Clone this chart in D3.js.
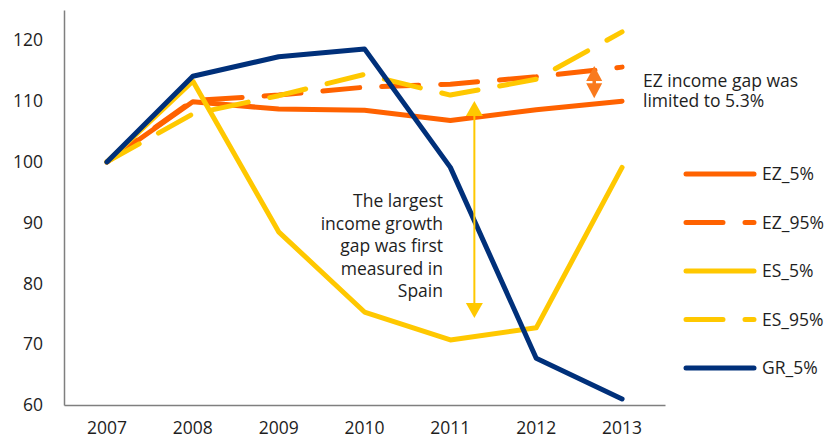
<!DOCTYPE html>
<html>
<head>
<meta charset="utf-8">
<script src="https://cdn.jsdelivr.net/npm/d3@7"></script>
<style>
  html, body { margin: 0; padding: 0; background: #fff; }
  svg text { font-family: "Open Sans", sans-serif; fill: #1e1e1e; }
</style>
</head>
<body>
<svg id="chart" width="835" height="441"></svg>
<script>
// Income index (2007 = 100) by income percentile
const years = ["2007", "2008", "2009", "2010", "2011", "2012", "2013"];
const ez5  = [100, 109.9, 108.7, 108.5, 106.8, 108.6, 110.0];
const ez95 = [100, 110.1, 111.0, 112.3, 112.8, 114.0, 115.6];
const es5  = [100, 113.3, 88.5, 75.3, 70.7, 72.7, 99.1];
const es95 = [100, 107.9, 110.9, 114.4, 111.0, 113.6, 121.4];
const gr5  = [100, 114.1, 117.3, 118.6, 99.1, 67.7, 61.0];
const yTicks = [60, 70, 80, 90, 100, 110, 120];

const seriesNames = ["EZ_5%", "EZ_95%", "ES_5%", "ES_95%", "GR_5%"];
const seriesValues = [ez5, ez95, es5, es95, gr5];
const seriesColors = ["#ff6200", "#ff6200", "#ffc800", "#ffc800", "#00307a"];
const seriesDashed = [false, true, false, true, false];

const fontSize = "17.5px";
const svg = d3.select("#chart");
const plotLeft = 64, plotRight = 665, plotTop = 10, plotBottom = 405;

const x = d3.scaleBand().domain(years).range([plotLeft, plotRight]).padding(0);
const cx = d => x(d) + x.bandwidth() / 2;
const y = d3.scaleLinear().domain([60, 125]).range([plotBottom, plotTop]);

// Axes
const yAxis = d3.axisLeft(y).tickValues(yTicks).tickSize(0).tickPadding(21);
const gy = svg.append("g").attr("transform", `translate(${plotLeft},0)`).call(yAxis);
gy.select(".domain").attr("stroke", "#7f7f7f").attr("stroke-width", 1.5);
gy.selectAll("text").style("font-size", fontSize);

const xAxis = d3.axisBottom(x).tickSize(0).tickPadding(17);
const gx = svg.append("g").attr("transform", `translate(0,${plotBottom})`).call(xAxis);
gx.select(".domain").attr("stroke", "#7f7f7f").attr("stroke-width", 1.5);
gx.selectAll("text").style("font-size", fontSize);

// Lines
const line = d3.line().x((d, i) => cx(years[i])).y(d => y(d));
const dash = "37,22";

seriesValues.forEach((vals, k) => {
  svg.append("path")
    .datum(vals)
    .attr("d", line)
    .attr("fill", "none")
    .attr("stroke", seriesColors[k])
    .attr("stroke-width", 5)
    .attr("stroke-linecap", "round")
    .attr("stroke-linejoin", "round")
    .attr("stroke-dasharray", seriesDashed[k] ? dash : null);
});

// Legend
const legend = svg.append("g");
seriesNames.forEach((name, k) => {
  const ly = 174 + k * 48.5;
  legend.append("line")
    .attr("x1", 686).attr("x2", 754).attr("y1", ly).attr("y2", ly)
    .attr("stroke", seriesColors[k])
    .attr("stroke-width", 5)
    .attr("stroke-linecap", "round")
    .attr("stroke-dasharray", seriesDashed[k] ? dash : null);
  legend.append("text")
    .attr("x", 762).attr("y", ly).attr("dy", "0.35em")
    .style("font-size", fontSize)
    .text(name);
});

// Double-headed arrow helper
function doubleArrow(xPos, y1, y2, color, width, headW, headH) {
  const g = svg.append("g");
  g.append("line")
    .attr("x1", xPos).attr("x2", xPos)
    .attr("y1", y1 + headH - 1).attr("y2", y2 - headH + 1)
    .attr("stroke", color).attr("stroke-width", width);
  g.append("path")
    .attr("d", `M${xPos},${y1} L${xPos - headW / 2},${y1 + headH} L${xPos + headW / 2},${y1 + headH} Z`)
    .attr("fill", color);
  g.append("path")
    .attr("d", `M${xPos},${y2} L${xPos - headW / 2},${y2 - headH} L${xPos + headW / 2},${y2 - headH} Z`)
    .attr("fill", color);
}

// Spain gap arrow: between ES_95% and ES_5% just after 2011
const xs = cx("2011") + 24;
doubleArrow(xs, y(es95[4]) + 6, y(es5[4]) - 22, "#ffc800", 2, 17, 15);

// EZ gap arrow: between EZ_95% and EZ_5% in 2013
const xe = cx("2012") + 58;
doubleArrow(xe, y(ez95[6]) - 1, y(ez5[6]) - 3, "#f97a1e", 3.5, 16, 15);

// Annotations
const note1 = ["The largest", "income growth", "gap was first", "measured in", "Spain"];
const t1 = svg.append("text").attr("text-anchor", "end").style("font-size", fontSize);
note1.forEach((s, i) => {
  t1.append("tspan").attr("x", 443).attr("y", 201 + i * 22.5).attr("dy", "0.35em").text(s);
});

const note2 = ["EZ income gap was", "limited to 5.3%"];
const t2 = svg.append("text").attr("text-anchor", "start").style("font-size", fontSize);
note2.forEach((s, i) => {
  t2.append("tspan").attr("x", 643).attr("y", 81 + i * 20).attr("dy", "0.35em").text(s);
});
</script>
</body>
</html>
